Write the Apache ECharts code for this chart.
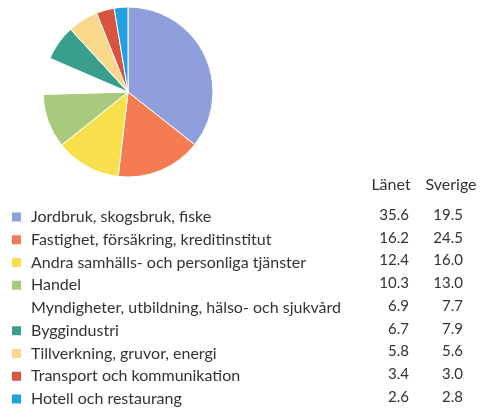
<!DOCTYPE html>
<html><head><meta charset="utf-8">
<script src="https://cdn.jsdelivr.net/npm/echarts@6/dist/echarts.min.js"></script>
<style>html,body{margin:0;padding:0;background:#fff}#c{width:485px;height:409px}</style>
</head><body><div id="c"></div>
<script>
const categories = [
  'Jordbruk, skogsbruk, fiske',
  'Fastighet, försäkring, kreditinstitut',
  'Andra samhälls- och personliga tjänster',
  'Handel',
  'Myndigheter, utbildning, hälso- och sjukvård',
  'Byggindustri',
  'Tillverkning, gruvor, energi',
  'Transport och kommunikation',
  'Hotell och restaurang'
];
const lanet = [35.6, 16.2, 12.4, 10.3, 6.9, 6.7, 5.8, 3.4, 2.6];
const sverige = [19.5, 24.5, 16.0, 13.0, 7.7, 7.9, 5.6, 3.0, 2.8];
const columnHeaders = ['Länet', 'Sverige'];
const colors = ['#8e9fdc', '#f47b52', '#f8e04c', '#a9ca7c', '#ffffff', '#3a9e8d', '#f8d98c', '#d8543e', '#21a0e0'];

const font = 'Lato, "Open Sans", sans-serif';
const rowY0 = 215, rowStep = 22.75;
const graphics = [];
graphics.push({type:'text', x: 391, y: 185, style:{text: columnHeaders[0], font: '16px ' + font, fill:'#333', textAlign:'center', textVerticalAlign:'middle'}});
graphics.push({type:'text', x: 451, y: 185, style:{text: columnHeaders[1], font: '16px ' + font, fill:'#333', textAlign:'center', textVerticalAlign:'middle'}});
lanet.forEach((v, i) => {
  graphics.push({type:'text', x: 409, y: rowY0 + i*rowStep, style:{text: v.toFixed(1), font: '15px ' + font, fill:'#333', textAlign:'right', textVerticalAlign:'middle'}});
  graphics.push({type:'text', x: 463, y: rowY0 + i*rowStep, style:{text: sverige[i].toFixed(1), font: '15px ' + font, fill:'#333', textAlign:'right', textVerticalAlign:'middle'}});
});

const chart = echarts.init(document.getElementById('c'), null, {renderer:'canvas'});
chart.setOption({
  animation: false,
  color: colors,
  legend: {
    orient: 'vertical', left: 5, top: 204, height: 240,
    itemWidth: 11, itemHeight: 11, itemGap: 6.75,
    icon: 'rect',
    selectedMode: false,
    textStyle: {fontFamily: font, fontSize: 16, lineHeight: 16, color: '#333', padding:[0,0,0,4]},
    data: categories
  },
  graphic: graphics,
  series: [{
    type: 'pie',
    center: [128, 92],
    radius: [0, 85],
    startAngle: 90,
    clockwise: true,
    label: {show: false},
    labelLine: {show: false},
    itemStyle: {borderColor: '#fff', borderWidth: 1},
    emphasis: {disabled: true},
    data: categories.map((c, i) => ({name: c, value: lanet[i]}))
  }]
});
</script></body></html>
